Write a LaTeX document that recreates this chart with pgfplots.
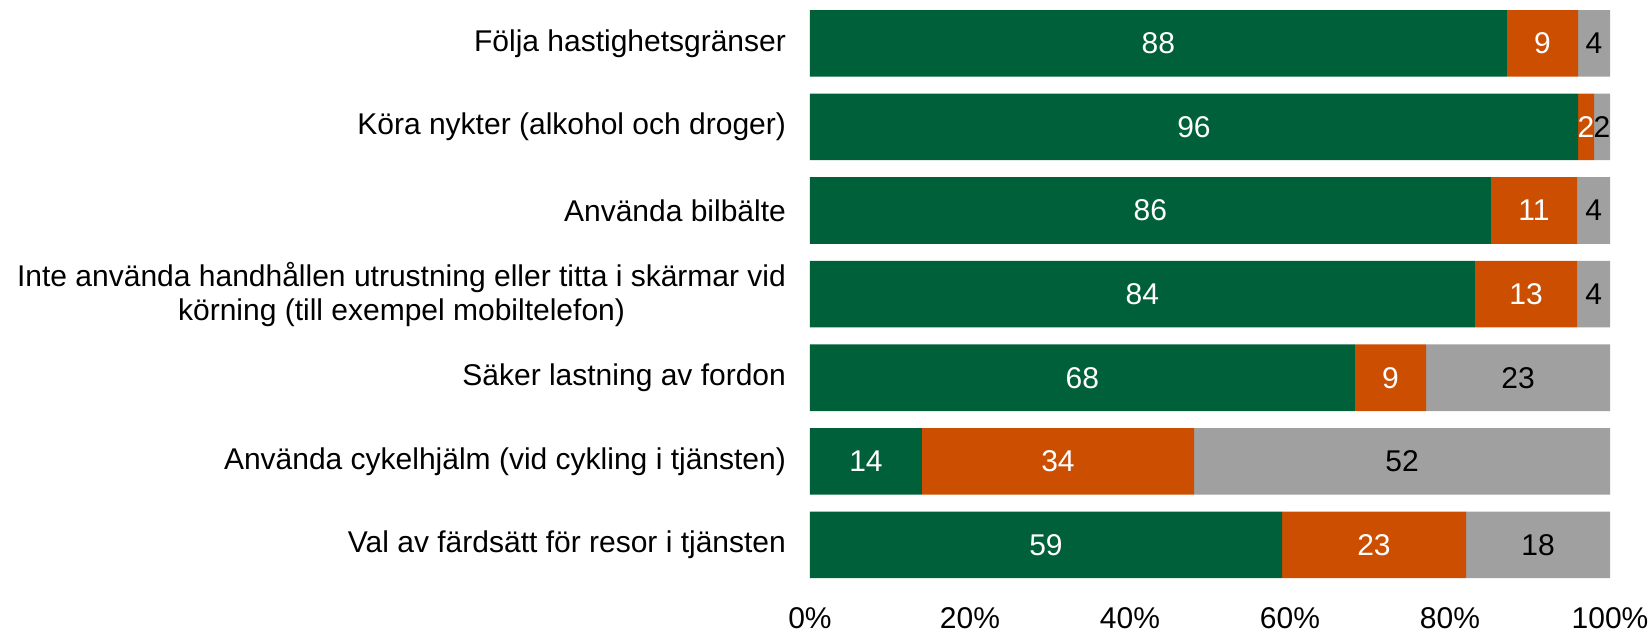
\documentclass[border=0pt]{standalone}
\usepackage{fontspec}
\setmainfont{Liberation Sans}
\usepackage{pgfplots}
\usepackage{pgfplotstable}
\pgfplotsset{compat=1.18}
\definecolor{cgreen}{RGB}{0,96,57}
\definecolor{corange}{RGB}{204,78,0}
\definecolor{cgrey}{RGB}{160,160,160}

\pgfplotstableread{
y v lab
0 87.1 88
1 96.0 96
2 85.1 86
3 83.1 84
4 68.1 68
5 14.0 14
6 59.0 59
}\greendata
\pgfplotstableread{
y v lab
0 8.9 9
1 2.0 2
2 10.8 11
3 12.8 13
4 8.9 9
5 34.0 34
6 23.0 23
}\orangedata
\pgfplotstableread{
y v lab
0 4.0 4
1 2.0 2
2 4.1 4
3 4.1 4
4 23.0 23
5 52.0 52
6 18.0 18
}\greydata

\begin{document}
\begin{tikzpicture}
\useasboundingbox (-405pt,-25.1pt) rectangle (421pt,293.35pt);
\begin{axis}[
  scale only axis,
  width=400pt, height=293pt,
  xbar stacked,
  bar width=33.3pt,
  y dir=reverse,
  xmin=0, xmax=100,
  ymin=-0.51, ymax=6.5,
  enlargelimits=false,
  axis line style={draw=none},
  major tick length=0pt,
  xtick={0,20,...,100},
  xticklabel={\pgfmathprintnumber{\tick}\%},
  /pgf/number format/assume math mode=true,
  ytick={0,...,6},
  yticklabels={
    {Följa hastighetsgränser},
    {Köra nykter (alkohol och droger)},
    {Använda bilbälte},
    {Inte använda handhållen utrustning eller titta i skärmar vid\\körning (till exempel mobiltelefon)},
    {Säker lastning av fordon},
    {Använda cykelhjälm (vid cykling i tjänsten)},
    {Val av färdsätt för resor i tjänsten}},
  ticklabel style={font=\fontsize{15}{17}\selectfont},
  yticklabel style={align=center, xshift=-8.5pt},
  xticklabel style={yshift=-7pt},
  nodes near coords,
  point meta=explicit symbolic,
  every node near coord/.append style={anchor=center, font=\fontsize{15}{17}\selectfont},
]
\addplot[fill=cgreen, draw=none, every node near coord/.append style={text=white}] table[x=v, y=y, meta=lab] {\greendata};
\addplot[fill=corange, draw=none, every node near coord/.append style={text=white}] table[x=v, y=y, meta=lab] {\orangedata};
\addplot[fill=cgrey, draw=none, every node near coord/.append style={text=black}] table[x=v, y=y, meta=lab] {\greydata};
\end{axis}
\end{tikzpicture}
\end{document}
